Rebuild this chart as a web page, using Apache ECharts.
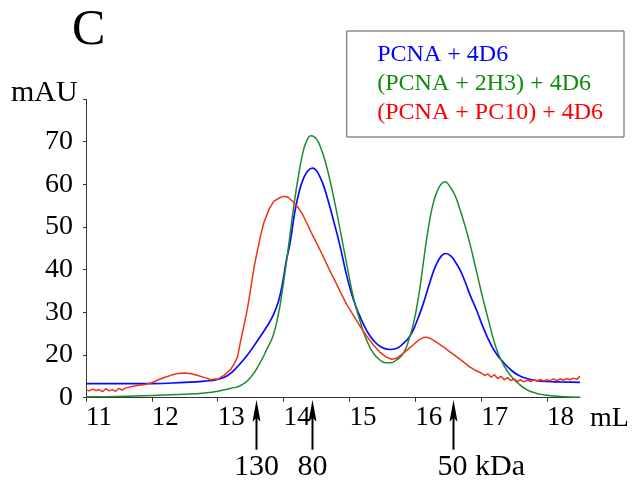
<!DOCTYPE html>
<html>
<head>
<meta charset="utf-8">
<script src="https://cdn.jsdelivr.net/npm/echarts@6/dist/echarts.min.js"></script>
<style>
html,body{margin:0;padding:0;background:#fff;}
#chart{width:639px;height:483px;}
</style>
</head>
<body>
<div id="chart"></div>
<script>
// ---- data (elution volume mL, absorbance mAU as read against the 20..70 ticks) ----
const seriesNames = ['PCNA + 4D6', '(PCNA + 2H3) + 4D6', '(PCNA + PC10) + 4D6'];

const blueX = [11.0,11.5,12.0,12.5,12.8,13.0,13.15,13.3,13.45,13.6,13.75,13.85,13.92,13.98,14.04,14.10,14.17,14.24,14.30,14.37,14.44,14.50,14.55,14.60,14.67,14.75,14.85,14.96,15.06,15.16,15.26,15.36,15.48,15.61,15.72,15.81,15.92,16.02,16.12,16.22,16.32,16.40,16.46,16.54,16.62,16.68,16.76,16.83,16.93,17.03,17.13,17.23,17.33,17.43,17.56,17.69,17.85,17.99,18.2,18.5];
const blueY = [13.3,13.3,13.3,13.6,13.9,14.3,15.2,17.3,20.0,23.3,26.8,29.6,32.5,36.5,42.0,46.5,53.5,58.5,61.3,63.2,63.8,63.2,61.8,60.0,56.5,52.0,46.0,38.5,33.0,29.0,25.8,23.5,21.9,21.3,21.6,22.6,24.5,27.8,32.0,37.0,41.3,43.3,43.8,43.2,41.5,39.9,37.0,34.1,30.5,26.5,23.0,20.3,18.4,16.8,15.3,14.5,14.0,13.8,13.7,13.6];

const greenX = [11.0,11.5,12.0,12.5,12.8,13.0,13.2,13.34,13.5,13.64,13.75,13.84,13.92,13.97,14.04,14.10,14.16,14.22,14.28,14.34,14.42,14.50,14.57,14.63,14.70,14.78,14.86,14.96,15.06,15.16,15.26,15.36,15.45,15.55,15.62,15.72,15.81,15.89,15.97,16.05,16.12,16.20,16.27,16.34,16.40,16.45,16.52,16.60,16.68,16.76,16.83,16.93,17.03,17.13,17.23,17.33,17.43,17.56,17.69,17.82,17.94,18.2,18.5];
const greenY = [10.2,10.3,10.5,10.8,11.1,11.5,12.2,12.8,14.8,18.1,21.5,24.5,29.5,34.0,41.5,48.5,55.5,61.5,66.5,69.8,71.4,70.6,68.3,65.5,61.2,55.5,49.2,41.2,33.5,28.0,23.5,20.5,19.0,18.2,18.2,18.9,20.2,23.0,27.3,33.8,41.5,50.0,55.5,58.7,60.2,60.6,59.6,57.5,54.0,50.0,46.0,39.5,33.0,27.0,21.5,18.0,15.5,13.4,11.9,11.1,10.7,10.3,10.1];

const redX = [11.00,11.05,11.10,11.15,11.20,11.25,11.30,11.35,11.40,11.45,11.50,11.55,11.60,11.70,11.80,11.90,12.00,12.10,12.20,12.30,12.40,12.50,12.60,12.70,12.80,12.90,12.95,13.00,13.05,13.10,13.15,13.20,13.25,13.30,13.35,13.40,13.45,13.50,13.55,13.60,13.65,13.70,13.78,13.85,13.93,14.00,14.07,14.14,14.20,14.28,14.35,14.42,14.50,14.58,14.65,14.72,14.80,14.88,14.96,15.06,15.16,15.26,15.36,15.46,15.56,15.64,15.72,15.80,15.88,15.96,16.05,16.12,16.17,16.24,16.32,16.42,16.52,16.62,16.72,16.82,16.90,17.00,17.05,17.10,17.15,17.20,17.25,17.30,17.35,17.40,17.45,17.50,17.55,17.60,17.65,17.70,17.75,17.80,17.85,17.90,17.95,18.00,18.05,18.10,18.15,18.20,18.25,18.30,18.35,18.40,18.45,18.50];
const redY = [11.9,11.6,12.0,11.7,11.9,11.4,12.1,11.6,11.9,11.5,12.2,11.8,12.3,12.6,12.9,13.1,13.5,14.2,14.8,15.3,15.7,15.8,15.6,15.2,14.7,14.2,14.4,14.3,14.8,15.3,16.0,16.7,18.0,19.5,23.5,27.0,30.8,35.5,40.5,44.3,48.0,51.0,54.2,56.0,56.8,57.2,57.0,56.0,55.0,53.2,51.0,48.7,46.3,43.8,41.5,39.2,36.8,34.2,31.8,29.3,26.8,24.5,22.4,20.7,19.5,19.0,19.3,20.2,21.2,22.3,23.5,24.1,24.2,23.8,23.0,22.0,20.8,19.7,18.5,17.3,16.5,15.8,15.2,15.6,14.8,15.4,14.5,15.0,14.2,14.7,14.0,14.4,13.8,14.2,13.7,14.1,13.8,14.2,13.9,14.3,13.9,14.2,14.0,14.4,14.0,14.4,14.1,14.5,14.2,14.6,14.3,15.0];

// size-marker arrows (elution volume, label)
const markerX = [13.58, 14.43, 16.57];
const markerLabels = ['130', '80', '50 kDa'];

// axis ticks
const xTicks = [11, 12, 13, 14, 15, 16, 17, 18];
const yTickLabels = {10: '0', 20: '20', 30: '30', 40: '40', 50: '50', 60: '60', 70: '70'};

const lineColors = ['#0a0aff', '#1f8a2e', '#ec3416'];
const legendColors = ['#0000ff', '#108a10', '#ff0000'];

const FONT = '"Liberation Serif", "Times New Roman", serif';

function pairs(xs, ys) { return xs.map((x, i) => [x, ys[i]]); }

const chart = echarts.init(document.getElementById('chart'), null, {renderer: 'canvas'});

const option = {
  animation: false,
  backgroundColor: '#ffffff',
  grid: {left: 86, right: 59, top: 99.5, bottom: 85.3, containLabel: false},
  legend: {
    orient: 'vertical',
    right: 15,
    top: 31,
    borderColor: '#555',
    borderWidth: 1,
    padding: [9.5, 21, 9.5, 25.5],
    itemWidth: 0,
    itemHeight: 0,
    itemGap: 0,
    icon: 'rect',
    selectedMode: false,
    textStyle: {fontFamily: FONT, fontSize: 24, lineHeight: 29},
    data: seriesNames.map((n, i) => ({name: n, textStyle: {color: legendColors[i]}}))
  },
  xAxis: {
    type: 'value',
    min: 11,
    max: 18.5,
    interval: 1,
    axisLine: {show: true, onZero: false, lineStyle: {color: '#333', width: 1}},
    axisTick: {show: true, inside: false, length: 4, lineStyle: {color: '#333'}},
    splitLine: {show: false},
    axisLabel: {
      fontFamily: FONT, fontSize: 27, color: '#000', margin: 7, align: 'left', padding: [0, 0, 0, 0],
      showMaxLabel: false,
      formatter: v => (xTicks.indexOf(v) >= 0 ? String(v) : '')
    }
  },
  yAxis: {
    type: 'value',
    min: 10,
    max: 79.9,
    interval: 10,
    axisLine: {show: true, onZero: false, lineStyle: {color: '#333', width: 1}},
    axisTick: {show: true, inside: false, length: 3, lineStyle: {color: '#333'}},
    splitLine: {show: false},
    axisLabel: {
      fontFamily: FONT, fontSize: 28, color: '#000', margin: 13,
      formatter: v => (yTickLabels[v] !== undefined ? yTickLabels[v] : '')
    }
  },
  series: [
    {name: seriesNames[0], type: 'line', data: pairs(blueX, blueY), showSymbol: false, symbol: 'none', smooth: 0.5,
     lineStyle: {color: lineColors[0], width: 1.7}, itemStyle: {color: lineColors[0]}},
    {name: seriesNames[1], type: 'line', data: pairs(greenX, greenY), showSymbol: false, symbol: 'none', smooth: 0.5,
     lineStyle: {color: lineColors[1], width: 1.5}, itemStyle: {color: lineColors[1]}},
    {name: seriesNames[2], type: 'line', data: pairs(redX, redY), showSymbol: false, symbol: 'none', smooth: false,
     lineStyle: {color: lineColors[2], width: 1.5}, itemStyle: {color: lineColors[2]}}
  ]
};
chart.setOption(option);

// ---- annotations: panel letter, axis units, size-marker arrows ----
const origin = chart.convertToPixel({gridIndex: 0}, [11, 10]);
const axisEnd = chart.convertToPixel({gridIndex: 0}, [18.5, 10]);
const axisBottom = origin[1];
const graphics = [
  {type: 'text', x: 72, y: 31, style: {text: 'C', font: '50px ' + FONT, fill: '#000', textAlign: 'left', textVerticalAlign: 'middle'}},
  {type: 'text', x: 11, y: 93.5, style: {text: 'mAU', font: '30px ' + FONT, fill: '#000', textAlign: 'left', textVerticalAlign: 'middle'}},
  {type: 'text', x: axisEnd[0] + 10, y: axisBottom + 21, style: {text: 'mL', font: '28px ' + FONT, fill: '#000', textAlign: 'left', textVerticalAlign: 'middle'}}
];
markerX.forEach((mx, i) => {
  const px = Math.round(chart.convertToPixel({gridIndex: 0}, [mx, 10])[0]) + 0.5;
  const tipY = axisBottom + 2;
  graphics.push({type: 'polygon', shape: {points: [[px, tipY], [px - 4, tipY + 22], [px, tipY + 18], [px + 4, tipY + 22]]}, style: {fill: '#000'}});
  graphics.push({type: 'line', shape: {x1: px, y1: tipY + 16, x2: px, y2: tipY + 50}, style: {stroke: '#000', lineWidth: 2}});
  const isLast = markerLabels[i].indexOf(' ') >= 0;
  graphics.push({type: 'text', x: isLast ? px - 16 : px, y: axisBottom + 69,
    style: {text: markerLabels[i], font: '30px ' + FONT, fill: '#000', textAlign: isLast ? 'left' : 'center', textVerticalAlign: 'middle'}});
});
chart.setOption({graphic: graphics});
</script>
</body>
</html>
